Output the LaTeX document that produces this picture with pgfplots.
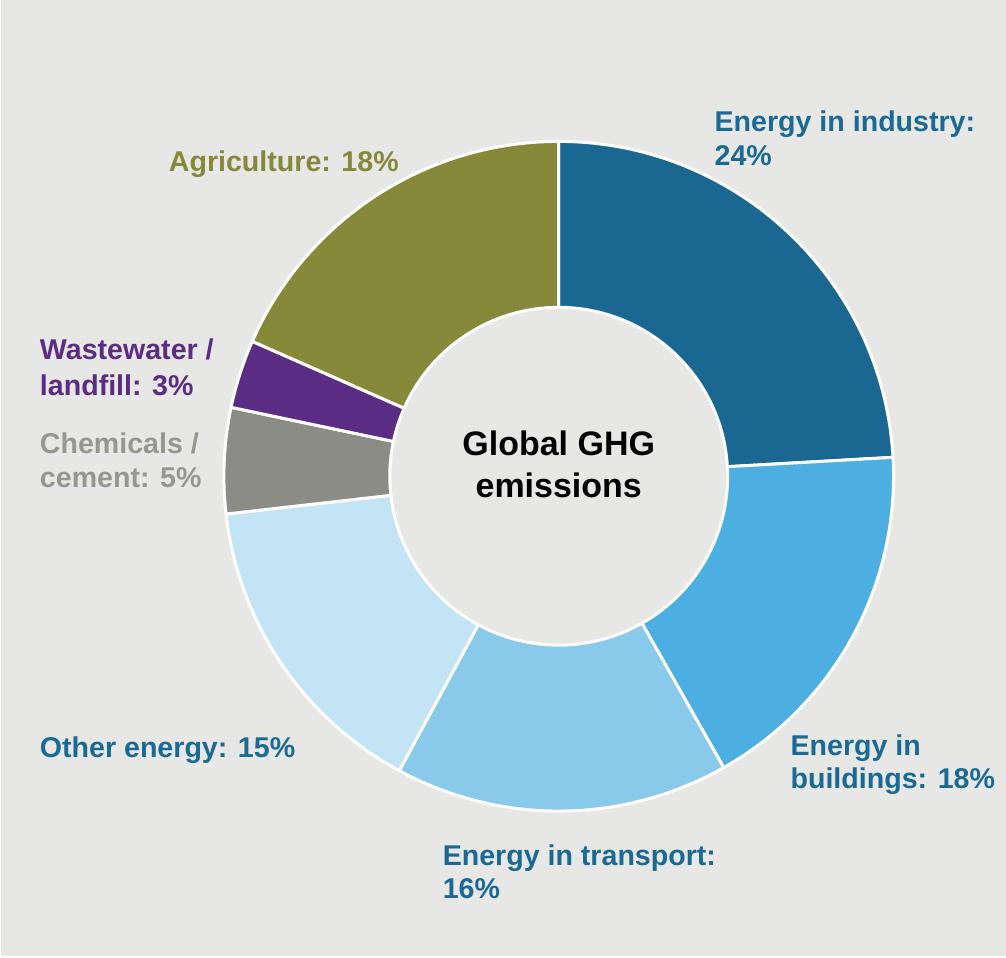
\documentclass[border=0pt]{standalone}
\usepackage{pgfplots}
\pgfplotsset{compat=1.18}
\usepackage{pgfplotstable}
\usepackage{fontspec}
\setmainfont{Liberation Sans}
\definecolor{bg}{HTML}{E7E7E5}
\definecolor{cInd}{HTML}{1A6891}
\definecolor{cBld}{HTML}{4DAFE1}
\definecolor{cTra}{HTML}{89C9EA}
\definecolor{cOth}{HTML}{C3E4F5}
\definecolor{cChe}{HTML}{8C8C86}
\definecolor{cWas}{HTML}{5A2C83}
\definecolor{cAgr}{HTML}{87893A}
\definecolor{tBlue}{HTML}{1B6A93}
\definecolor{tGray}{HTML}{97978F}
\pgfplotstableread[col sep=comma]{
name,value,col
industry,24.1,cInd
buildings,17.7,cBld
transport,16.1,cTra
other,15.3,cOth
chemicals,5.1,cChe
wastewater,3.3,cWas
agriculture,18.4,cAgr
}\shares
\begin{document}
\begin{tikzpicture}
\begin{axis}[hide axis, scale only axis, width=503pt, height=478.5pt,
  xmin=0, xmax=1006, ymin=0, ymax=957, clip=false]
\fill[bg] (axis cs:0,0) rectangle (axis cs:1006,957);
\draw[white, line width=0.5pt] (axis cs:0.5,957) -- (axis cs:0.5,0.5) -- (axis cs:1006,0.5);
\pgfmathsetmacro\cum{90}
\pgfplotstablegetrowsof{\shares}
\pgfmathtruncatemacro\N{\pgfplotsretval-1}
\pgfplotsforeachungrouped \k in {0,...,\N}{%
  \pgfplotstablegetelem{\k}{value}\of\shares \let\sval\pgfplotsretval
  \pgfplotstablegetelem{\k}{col}\of\shares \let\slicecol\pgfplotsretval
  \pgfmathsetmacro\ea{\cum-3.6*\sval}
  \pgfmathsetmacro\xo{559+335*cos(\cum)}
  \pgfmathsetmacro\yo{481+335*sin(\cum)}
  \pgfmathsetmacro\xin{559+169*cos(\ea)}
  \pgfmathsetmacro\yin{481+169*sin(\ea)}
  \edef\temp{\noexpand\filldraw[fill=\slicecol, draw=white, line width=1.5pt, line join=round]
    (axis cs:\xo,\yo) arc[start angle=\cum, end angle=\ea, radius=167.5pt]
    -- (axis cs:\xin,\yin) arc[start angle=\ea, end angle=\cum, radius=84.5pt] -- cycle;}%
  \temp
  \let\cum\ea
}
\begin{scope}[every node/.append style={font=\fontsize{14.3}{17}\selectfont\bfseries, anchor=base west, inner sep=0pt, outer sep=0pt}]
\node[text=tBlue] at (axis cs:715,826) {Energy in industry:};
\node[text=tBlue] at (axis cs:715,792) {24\%};
\node[text=cAgr] at (axis cs:169,786) {Agriculture: 18\%};
\node[text=cWas] at (axis cs:40,598) {Wastewater /};
\node[text=cWas] at (axis cs:40,562) {landfill: 3\%};
\node[text=tGray] at (axis cs:40,504) {Chemicals /};
\node[text=tGray] at (axis cs:40,470) {cement: 5\%};
\node[text=tBlue] at (axis cs:40,200) {Other energy: 15\%};
\node[text=tBlue] at (axis cs:791,202) {Energy in};
\node[text=tBlue] at (axis cs:791,169) {buildings: 18\%};
\node[text=tBlue] at (axis cs:443,92) {Energy in transport:};
\node[text=tBlue] at (axis cs:443,59) {16\%};
\end{scope}
\node[font=\fontsize{17}{21}\selectfont\bfseries, anchor=base, text=black, inner sep=0pt] at (axis cs:559,502) {Global GHG};
\node[font=\fontsize{17}{21}\selectfont\bfseries, anchor=base, text=black, inner sep=0pt] at (axis cs:559,460) {emissions};
\end{axis}
\end{tikzpicture}
\end{document}
